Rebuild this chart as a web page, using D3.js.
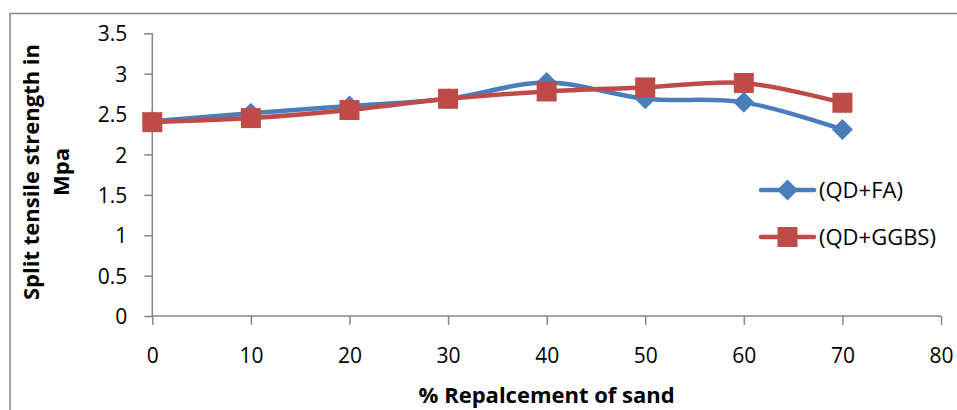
<!DOCTYPE html>
<html>
<head>
<meta charset="utf-8">
<script src="https://cdn.jsdelivr.net/npm/d3@7/dist/d3.min.js"></script>
<style>
  html, body { margin: 0; padding: 0; background: #fff; }
  svg { display: block; font-family: "Open Sans", "Liberation Sans", sans-serif; }
</style>
</head>
<body>
<svg id="chart" width="957" height="410"></svg>
<script>
// ---- data ----
const replacement = [0, 10, 20, 30, 40, 50, 60, 70];
const qdFA   = [2.41, 2.51, 2.60, 2.69, 2.89, 2.69, 2.645, 2.31];
const qdGGBS = [2.40, 2.45, 2.55, 2.69, 2.78, 2.83, 2.885, 2.64];
const seriesNames = ["(QD+FA)", "(QD+GGBS)"];
const xTicks = [0, 10, 20, 30, 40, 50, 60, 70, 80];
const yTicks = [0, 0.5, 1, 1.5, 2, 2.5, 3, 3.5];
const xTitle = "% Repalcement of sand";
const yTitleLines = ["Split tensile strength in", "Mpa"];

// ---- layout ----
const svg = d3.select("#chart");
const L = 152.3, R = 941, T = 33.3, B = 316;
const axisColor = "#868686";
const colors = ["#4A7EBB", "#BE4B48"];

const x = d3.scaleLinear().domain([0, 80]).range([L, R]);
const y = d3.scaleLinear().domain([0, 3.5]).range([B, T]);

// outer frame
svg.append("rect").attr("x", 10).attr("y", 13.5).attr("width", 960).attr("height", 420)
  .attr("fill", "none").attr("stroke", axisColor).attr("stroke-width", 1.5);

// axes
const xAxis = svg.append("g").attr("transform", `translate(0,${B})`)
  .call(d3.axisBottom(x).tickValues(xTicks).tickSize(9).tickPadding(24).tickFormat(d3.format("d")));
const yAxis = svg.append("g").attr("transform", `translate(${L},0)`)
  .call(d3.axisLeft(y).tickValues(yTicks).tickSize(8).tickPadding(17).tickFormat(d => String(d)));
[xAxis, yAxis].forEach(g => {
  g.selectAll("path.domain").attr("stroke", axisColor).attr("stroke-width", 1.5);
  g.selectAll(".tick line").attr("stroke", axisColor).attr("stroke-width", 1.5);
  g.selectAll(".tick text").attr("fill", "#000").style("font-size", "21px")
    .style("font-family", '"Open Sans", sans-serif');
});
xAxis.select("path.domain").attr("d", `M${L},0H${R}`);
yAxis.select("path.domain").attr("d", `M0,${B}V${T}`);
yAxis.selectAll(".tick text").attr("dy", "0.36em");
xAxis.selectAll(".tick text").attr("dy", "0.68em");

// titles
svg.append("text").attr("x", (L + R) / 2 - 0).attr("y", 403)
  .attr("text-anchor", "middle").attr("font-weight", "bold").style("font-size", "22px")
  .text(xTitle);
const yt = svg.append("text").attr("transform", "translate(39,172) rotate(-90)")
  .attr("text-anchor", "middle").attr("font-weight", "bold").style("font-size", "22px");
yTitleLines.forEach((t, i) => {
  yt.append("tspan").attr("x", 0).attr("y", i * 30).text(t);
});

// series
const allSeries = [qdFA, qdGGBS];
const line = d3.line().x((d, i) => x(replacement[i])).y(d => y(d))
  .curve(d3.curveCatmullRom.alpha(0));

function marker(g, idx, cx, cy) {
  if (idx === 0) {
    g.append("path").attr("d", `M${cx},${cy - 10.5}L${cx + 10.5},${cy}L${cx},${cy + 10.5}L${cx - 10.5},${cy}Z`)
      .attr("fill", colors[0]);
  } else {
    g.append("rect").attr("x", cx - 10).attr("y", cy - 10).attr("width", 20).attr("height", 20)
      .attr("fill", colors[1]);
  }
}

allSeries.forEach((vals, si) => {
  const g = svg.append("g");
  g.append("path").datum(vals).attr("d", line).attr("fill", "none")
    .attr("stroke", colors[si]).attr("stroke-width", 4.5).attr("stroke-linecap", "round");
  vals.forEach((v, i) => marker(g, si, x(replacement[i]), y(v)));
});

// legend
const legY = [190, 237];
seriesNames.forEach((name, si) => {
  const g = svg.append("g");
  g.append("line").attr("x1", 761).attr("x2", 814).attr("y1", legY[si]).attr("y2", legY[si])
    .attr("stroke", colors[si]).attr("stroke-width", 4.5).attr("stroke-linecap", "round");
  marker(g, si, 787.5, legY[si]);
  g.append("text").attr("x", 819).attr("y", legY[si]).attr("dy", "0.36em")
    .style("font-size", "22px").text(name);
});
</script>
</body>
</html>
